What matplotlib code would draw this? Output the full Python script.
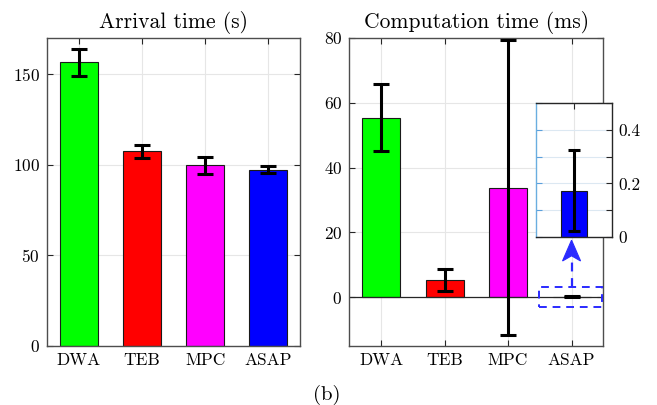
import numpy as np
import matplotlib
matplotlib.use("Agg")
import matplotlib.pyplot as plt
from matplotlib.patches import Rectangle, Polygon

plt.rcParams['font.family'] = ['cmr10', 'DejaVu Serif']
plt.rcParams['axes.formatter.use_mathtext'] = True
plt.rcParams['mathtext.fontset'] = 'cm'

methods = ["DWA", "TEB", "MPC", "ASAP"]
colors = ["#00ff00", "#ff0000", "#ff00ff", "#0000ff"]

arrival_mean = [156.5, 107.5, 99.8, 97.4]
arrival_err = [7.2, 3.7, 4.6, 1.9]

comp_mean = [55.4, 5.4, 33.8, 0.173]
comp_err = [10.3, 3.3, 45.4, 0.153]

arrival_ticks = [0, 50, 100, 150]
comp_ticks = [0, 20, 40, 60, 80]
inset_ticks = [0, 0.1, 0.2, 0.3, 0.4, 0.5]
inset_labels = ["0", "", "0.2", "", "0.4", ""]

W, H = 657, 405
fig = plt.figure(figsize=(W / 100, H / 100), dpi=100)


def px_axes(left, top, right, bottom):
    return fig.add_axes([left / W, 1 - bottom / H, (right - left) / W, (bottom - top) / H])


spine_col = "#4d4d4d"
grid_col = "#e6e6e6"
blue_dash = "#2a2aff"


def style(ax):
    for s in ax.spines.values():
        s.set_color(spine_col)
        s.set_linewidth(1.0)
    ax.tick_params(direction="in", length=4, width=0.8, color="#262626",
                   top=True, right=True, labelsize=12.5, pad=5)
    ax.grid(True, color=grid_col, linewidth=0.8)
    ax.set_axisbelow(True)


x = np.arange(1, 5)

# left: arrival time
ax1 = px_axes(47, 38, 300, 346)
style(ax1)
ax1.bar(x, arrival_mean, width=0.6, color=colors, edgecolor="#1a1a1a", linewidth=0.8, zorder=2)
ax1.errorbar(x, arrival_mean, yerr=arrival_err, fmt="none", ecolor="black",
             elinewidth=2.2, capsize=6, capthick=2.2, zorder=3)
ax1.set_xlim(0.5, 4.5)
ax1.set_ylim(0, 170)
ax1.set_xticks(x)
ax1.set_xticklabels(methods)
ax1.set_yticks(arrival_ticks)
ax1.set_title("Arrival time (s)", fontsize=15.5, pad=7)

# right: computation time
ax2 = px_axes(349.3, 37.7, 603.3, 346)
style(ax2)
ax2.bar(x, comp_mean, width=0.6, color=colors, edgecolor="#1a1a1a", linewidth=0.8, zorder=2)
ax2.axhline(0, color="#262626", linewidth=0.9, zorder=2.5)
ax2.errorbar(x, comp_mean, yerr=comp_err, fmt="none", ecolor="black",
             elinewidth=2.2, capsize=6, capthick=2.2, zorder=3)
ax2.set_xlim(0.5, 4.5)
ax2.set_ylim(-15, 80)
ax2.set_xticks(x)
ax2.set_xticklabels(methods)
ax2.set_yticks(comp_ticks)
ax2.set_title("Computation time (ms)", fontsize=15.5, pad=7)

# zoom box and arrow
ax2.add_patch(Rectangle((3.49, -2.95), 0.99, 6.05, fill=False, edgecolor=blue_dash,
                        linestyle=(0, (4, 3)), linewidth=1.4, zorder=4, clip_on=False))
ax2.plot([4, 4], [3.1, 12.8], color=blue_dash, linestyle=(0, (4, 3)), linewidth=1.6,
         zorder=4, clip_on=False)
ax2.add_patch(Polygon([(4, 17.6), (4.142, 11.2), (4, 12.8), (3.858, 11.2)], closed=True,
                      facecolor=blue_dash, edgecolor=blue_dash, linewidth=0.8,
                      zorder=4, clip_on=False))

# inset
ax3 = px_axes(536, 103.3, 611.7, 236.7)
ax3.set_facecolor("white")
ax3.bar([4], [comp_mean[3]], width=0.6, color=colors[3], edgecolor="#1a1a1a", linewidth=0.8, zorder=2)
ax3.errorbar([4], [comp_mean[3]], yerr=[comp_err[3]], fmt="none", ecolor="black",
             elinewidth=2.2, capsize=4.5, capthick=2.2, zorder=3)
ax3.set_xlim(3.116, 4.884)
ax3.set_ylim(0, 0.5)
ax3.set_xticks([4])
ax3.set_xticklabels([])
ax3.set_yticks(inset_ticks)
ax3.set_yticklabels([])
ax3.grid(True, axis="x", color=grid_col, linewidth=0.8)
ax3.grid(True, axis="y", color="#dce8f2", linewidth=0.8)
ax3.set_axisbelow(True)
ax3.tick_params(axis="x", direction="in", length=4, width=0.8, color="#262626", top=True)
ax3.tick_params(axis="y", direction="in", length=4, width=0.8, color="#5aa0dc", left=True, right=False)
for k, s in ax3.spines.items():
    s.set_linewidth(1.0)
    s.set_color("#262626")
ax3.spines["left"].set_color("#6aaee0")

ax3r = ax3.twinx()
ax3r.set_ylim(0, 0.5)
ax3r.set_yticks(inset_ticks)
ax3r.set_yticklabels(inset_labels)
ax3r.tick_params(axis="y", direction="in", length=4, width=0.8, color="#262626",
                 labelsize=12.5, pad=5)
for s in ax3r.spines.values():
    s.set_visible(False)

fig.text(327 / W, 1 - 395 / H, "(b)", fontsize=15, ha="center", va="center")

fig.savefig("out.png", dpi=100)
